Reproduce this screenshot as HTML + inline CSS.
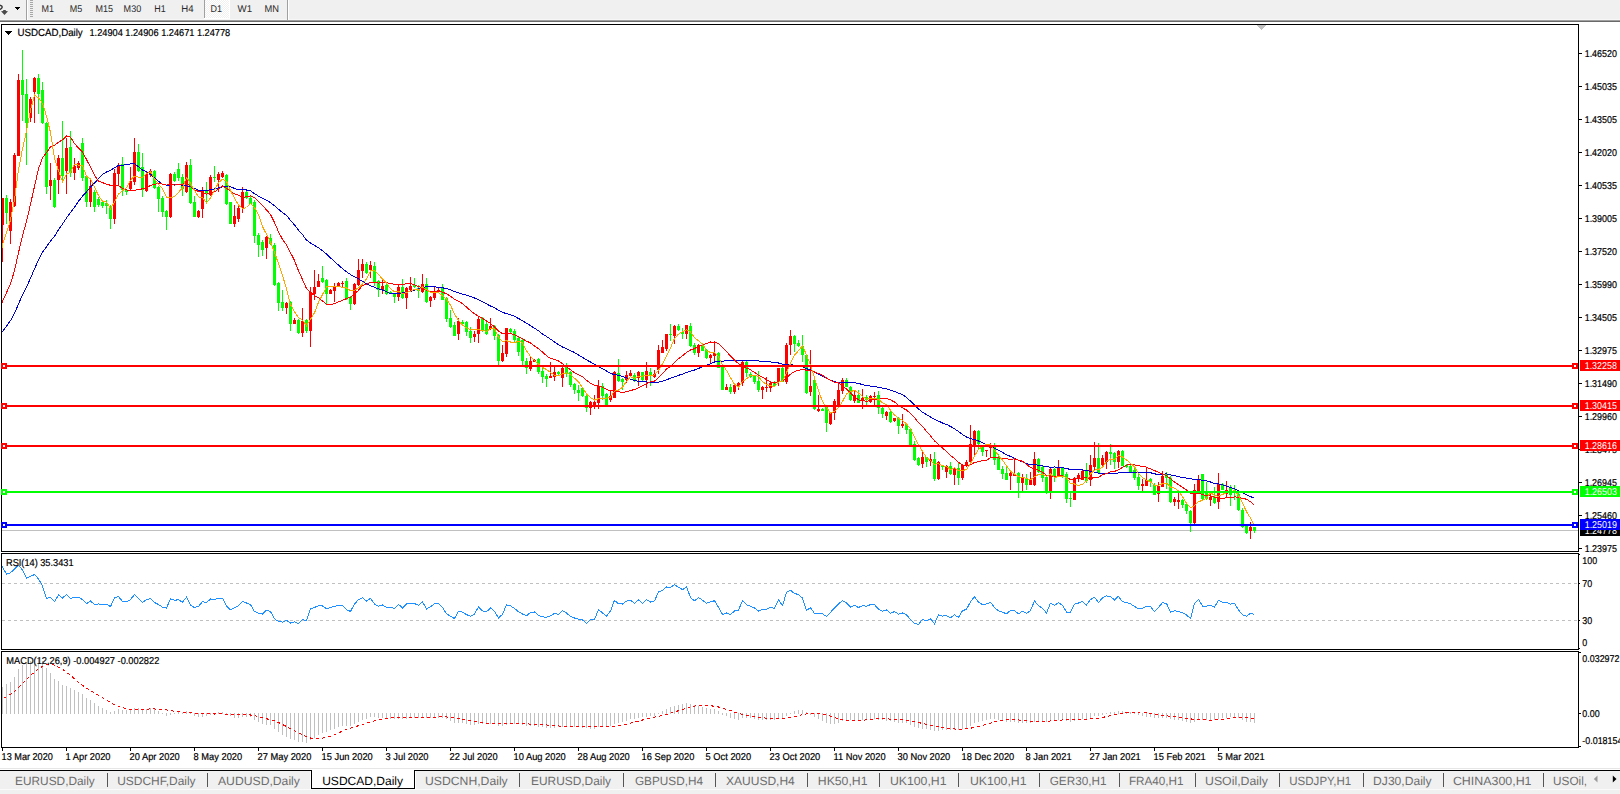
<!DOCTYPE html>
<html><head><meta charset="utf-8"><title>USDCAD,Daily</title>
<style>html,body{margin:0;padding:0;background:#fff;width:1620px;height:794px;overflow:hidden}svg{display:block}text{font-family:"Liberation Sans",sans-serif;shape-rendering:auto;text-rendering:geometricPrecision}</style>
</head><body><svg width="1620" height="794" viewBox="0 0 1620 794" font-family="Liberation Sans, sans-serif" shape-rendering="crispEdges"><rect x="0" y="0" width="1620" height="20" fill="#f0f0f0"/>
<rect x="0" y="19" width="1620" height="1" fill="#f7f7f7"/>
<rect x="0" y="20" width="1620" height="1" fill="#a0a0a0"/>
<rect x="0" y="21" width="1620" height="1" fill="#696969"/>
<path d="M0 5.3 Q4.5 6.5 0 9.6" stroke="#333" stroke-width="1.4" fill="none" shape-rendering="auto"/>
<path d="M3.2 10 L5.8 10 L5.8 11 L8 11.3 L4.5 15 L1 11.3 L3.2 11 Z" fill="#4a4a4a" shape-rendering="auto"/>
<path d="M15 7 L20 7 L17.5 10 Z" fill="#000"/>
<rect x="26" y="0" width="1" height="20" fill="#a0a0a0"/>
<rect x="27" y="0" width="1" height="20" fill="#ffffff"/>
<rect x="30" y="0" width="3" height="1" fill="#a8a8a8"/>
<rect x="30" y="2" width="3" height="1" fill="#a8a8a8"/>
<rect x="30" y="4" width="3" height="1" fill="#a8a8a8"/>
<rect x="30" y="6" width="3" height="1" fill="#a8a8a8"/>
<rect x="30" y="8" width="3" height="1" fill="#a8a8a8"/>
<rect x="30" y="10" width="3" height="1" fill="#a8a8a8"/>
<rect x="30" y="12" width="3" height="1" fill="#a8a8a8"/>
<rect x="30" y="14" width="3" height="1" fill="#a8a8a8"/>
<rect x="30" y="16" width="3" height="1" fill="#a8a8a8"/>
<pattern id="dith" x="0" y="0" width="2" height="2" patternUnits="userSpaceOnUse"><rect width="2" height="2" fill="#f0f0f0"/><rect width="1" height="1" fill="#fff"/><rect x="1" y="1" width="1" height="1" fill="#fff"/></pattern>
<rect x="205" y="0" width="24" height="18" fill="url(#dith)"/>
<rect x="204" y="0" width="1" height="18" fill="#a0a0a0"/>
<rect x="229" y="0" width="1" height="19" fill="#fff"/>
<rect x="204" y="18" width="26" height="1" fill="#fff"/>
<rect x="287" y="0" width="1" height="20" fill="#a0a0a0"/>
<rect x="288" y="0" width="1" height="20" fill="#ffffff"/>
<text x="41.5" y="12" font-size="9.80" fill="#2a2a2a" textLength="12.50" lengthAdjust="spacingAndGlyphs">M1</text>
<text x="69.7" y="12" font-size="9.80" fill="#2a2a2a" textLength="12.50" lengthAdjust="spacingAndGlyphs">M5</text>
<text x="95.5" y="12" font-size="9.80" fill="#2a2a2a" textLength="17.50" lengthAdjust="spacingAndGlyphs">M15</text>
<text x="123.60000000000001" y="12" font-size="9.80" fill="#2a2a2a" textLength="17.60" lengthAdjust="spacingAndGlyphs">M30</text>
<text x="154.29999999999998" y="12" font-size="9.80" fill="#2a2a2a" textLength="11.40" lengthAdjust="spacingAndGlyphs">H1</text>
<text x="181.2" y="12" font-size="9.80" fill="#2a2a2a" textLength="12.30" lengthAdjust="spacingAndGlyphs">H4</text>
<text x="210.39999999999998" y="12" font-size="9.80" fill="#2a2a2a" textLength="11.50" lengthAdjust="spacingAndGlyphs">D1</text>
<text x="237.6" y="12" font-size="9.80" fill="#2a2a2a" textLength="14.50" lengthAdjust="spacingAndGlyphs">W1</text>
<text x="264.4" y="12" font-size="9.80" fill="#2a2a2a" textLength="14.50" lengthAdjust="spacingAndGlyphs">MN</text>
<rect x="1" y="24" width="1578" height="1" fill="#000"/>
<rect x="1" y="551" width="1578" height="1" fill="#000"/>
<rect x="1" y="24" width="1" height="528" fill="#000"/>
<rect x="1578" y="24" width="1" height="528" fill="#000"/>
<rect x="1" y="553" width="1578" height="1" fill="#000"/>
<rect x="1" y="649" width="1578" height="1" fill="#000"/>
<rect x="1" y="553" width="1" height="97" fill="#000"/>
<rect x="1578" y="553" width="1" height="97" fill="#000"/>
<rect x="1" y="651" width="1578" height="1" fill="#000"/>
<rect x="1" y="747" width="1578" height="1" fill="#000"/>
<rect x="1" y="651" width="1" height="97" fill="#000"/>
<rect x="1578" y="651" width="1" height="97" fill="#000"/>
<clipPath id="cm"><rect x="2" y="25" width="1576" height="526"/></clipPath>
<clipPath id="cr"><rect x="2" y="554" width="1576" height="95"/></clipPath>
<clipPath id="cd"><rect x="2" y="652" width="1576" height="95"/></clipPath>
<path d="M1257 25 L1266 25 L1261.5 30 Z" fill="#c0c0c0"/>
<g clip-path="url(#cm)">
<rect x="2" y="530" width="1576" height="1" fill="#c0c0c0"/>
<path d="M6 195h1v29h-1z M5 198h3v15h-3z M22 50h1v71h-1z M21 80h3v15h-3z M26 79h1v86h-1z M25 94h3v29h-3z M38 74h1v40h-1z M37 78h3v16h-3z M42 82h1v42h-1z M41 90h3v33h-3z M46 122h1v72h-1z M45 123h3v64h-3z M54 178h1v30h-1z M53 180h3v27h-3z M62 121h1v60h-1z M61 158h3v18h-3z M70 131h1v46h-1z M69 147h3v26h-3z M82 138h1v43h-1z M81 143h3v35h-3z M86 175h1v32h-1z M85 176h3v26h-3z M94 190h1v22h-1z M93 192h3v15h-3z M98 197h1v10h-1z M97 199h3v6h-3z M102 201h1v7h-1z M101 202h3v4h-3z M106 200h1v14h-1z M105 203h3v3h-3z M110 205h1v24h-1z M109 206h3v13h-3z M122 157h1v39h-1z M121 164h3v26h-3z M126 189h1v6h-1z M125 190h3v2h-3z M138 144h1v28h-1z M137 152h3v19h-3z M142 153h1v44h-1z M141 167h3v23h-3z M154 170h1v19h-1z M153 171h3v17h-3z M158 186h1v26h-1z M157 187h3v12h-3z M162 196h1v21h-1z M161 198h3v14h-3z M166 210h1v20h-1z M165 211h3v6h-3z M174 172h1v10h-1z M173 174h3v7h-3z M178 163h1v18h-1z M177 169h3v9h-3z M182 174h1v22h-1z M181 177h3v12h-3z M190 159h1v45h-1z M189 165h3v38h-3z M194 196h1v21h-1z M193 202h3v15h-3z M206 182h1v21h-1z M205 190h3v4h-3z M214 166h1v16h-1z M213 177h3v1h-3z M226 174h1v31h-1z M225 175h3v29h-3z M230 202h1v22h-1z M229 202h3v22h-3z M246 190h1v9h-1z M245 192h3v6h-3z M250 196h1v8h-1z M249 198h3v6h-3z M254 200h1v43h-1z M253 202h3v34h-3z M258 233h1v24h-1z M257 235h3v10h-3z M262 240h1v16h-1z M261 242h3v8h-3z M270 234h1v11h-1z M269 238h3v6h-3z M274 243h1v43h-1z M273 245h3v40h-3z M278 282h1v29h-1z M277 283h3v20h-3z M282 290h1v21h-1z M281 302h3v6h-3z M290 301h1v30h-1z M289 302h3v22h-3z M298 319h1v15h-1z M297 320h3v13h-3z M306 319h1v14h-1z M305 320h3v11h-3z M322 266h1v17h-1z M321 278h3v4h-3z M326 279h1v26h-1z M325 280h3v14h-3z M346 278h1v22h-1z M345 281h3v17h-3z M350 296h1v14h-1z M349 297h3v7h-3z M366 262h1v12h-1z M365 264h3v9h-3z M374 262h1v24h-1z M373 266h3v16h-3z M378 280h1v17h-1z M377 281h3v9h-3z M386 284h1v11h-1z M385 285h3v9h-3z M390 291h1v3h-1z M389 292h3v1h-3z M394 293h1v10h-1z M393 294h3v3h-3z M402 279h1v20h-1z M401 287h3v11h-3z M414 278h1v10h-1z M413 285h3v2h-3z M418 285h1v13h-1z M417 288h3v3h-3z M426 278h1v25h-1z M425 284h3v18h-3z M442 284h1v16h-1z M441 288h3v12h-3z M446 297h1v25h-1z M445 298h3v21h-3z M450 310h1v18h-1z M449 318h3v9h-3z M454 322h1v14h-1z M453 325h3v11h-3z M462 320h1v5h-1z M461 322h3v2h-3z M466 321h1v15h-1z M465 322h3v10h-3z M470 327h1v16h-1z M469 331h3v7h-3z M482 317h1v15h-1z M481 318h3v13h-3z M486 322h1v13h-1z M485 324h3v10h-3z M494 325h1v15h-1z M493 326h3v10h-3z M498 334h1v31h-1z M497 335h3v26h-3z M510 328h1v5h-1z M509 329h3v3h-3z M514 329h1v13h-1z M513 331h3v9h-3z M518 337h1v19h-1z M517 338h3v14h-3z M522 339h1v26h-1z M521 340h3v21h-3z M526 358h1v16h-1z M525 361h3v7h-3z M538 358h1v16h-1z M537 359h3v13h-3z M542 368h1v15h-1z M541 371h3v6h-3z M546 374h1v13h-1z M545 376h3v3h-3z M558 371h1v4h-1z M557 372h3v2h-3z M566 363h1v14h-1z M565 366h3v8h-3z M570 371h1v16h-1z M569 372h3v13h-3z M574 383h1v11h-1z M573 384h3v6h-3z M578 385h1v16h-1z M577 390h3v3h-3z M582 387h1v10h-1z M581 388h3v8h-3z M586 393h1v19h-1z M585 396h3v12h-3z M602 383h1v17h-1z M601 386h3v10h-3z M606 393h1v13h-1z M605 394h3v11h-3z M618 359h1v23h-1z M617 373h3v8h-3z M622 378h1v12h-1z M621 379h3v3h-3z M634 373h1v9h-1z M633 375h3v5h-3z M642 372h1v9h-1z M641 372h3v8h-3z M650 368h1v18h-1z M649 372h3v4h-3z M670 324h1v17h-1z M669 334h3v1h-3z M678 324h1v7h-1z M677 326h3v4h-3z M682 328h1v11h-1z M681 332h3v2h-3z M690 323h1v24h-1z M689 326h3v20h-3z M694 343h1v12h-1z M693 345h3v8h-3z M702 343h1v8h-1z M701 345h3v6h-3z M706 349h1v10h-1z M705 350h3v8h-3z M718 352h1v16h-1z M717 353h3v15h-3z M722 366h1v24h-1z M721 367h3v23h-3z M730 384h1v10h-1z M729 387h3v5h-3z M746 361h1v16h-1z M745 362h3v11h-3z M750 372h1v6h-1z M749 374h3v3h-3z M754 375h1v9h-1z M753 375h3v7h-3z M758 371h1v21h-1z M757 381h3v9h-3z M774 381h1v5h-1z M773 382h3v4h-3z M782 367h1v15h-1z M781 368h3v14h-3z M794 335h1v17h-1z M793 336h3v8h-3z M798 340h1v7h-1z M797 343h3v3h-3z M802 335h1v27h-1z M801 346h3v9h-3z M806 354h1v40h-1z M805 355h3v38h-3z M814 380h1v30h-1z M813 380h3v29h-3z M822 408h1v3h-1z M821 409h3v2h-3z M826 406h1v26h-1z M825 407h3v16h-3z M846 378h1v9h-1z M845 380h3v7h-3z M850 386h1v15h-1z M849 387h3v13h-3z M858 390h1v13h-1z M857 395h3v8h-3z M866 395h1v12h-1z M865 397h3v3h-3z M878 391h1v23h-1z M877 395h3v13h-3z M882 407h1v11h-1z M881 408h3v6h-3z M890 411h1v12h-1z M889 412h3v10h-3z M898 417h1v17h-1z M897 418h3v8h-3z M906 423h1v11h-1z M905 424h3v6h-3z M910 428h1v18h-1z M909 429h3v16h-3z M914 441h1v20h-1z M913 444h3v16h-3z M918 457h1v9h-1z M917 458h3v7h-3z M926 457h1v10h-1z M925 457h3v5h-3z M934 452h1v29h-1z M933 459h3v20h-3z M942 465h1v5h-1z M941 465h3v2h-3z M950 462h1v13h-1z M949 466h3v8h-3z M958 463h1v22h-1z M957 468h3v10h-3z M978 430h1v20h-1z M977 431h3v13h-3z M982 445h1v11h-1z M981 447h3v5h-3z M994 443h1v22h-1z M993 446h3v14h-3z M998 454h1v16h-1z M997 457h3v13h-3z M1002 466h1v13h-1z M1001 469h3v5h-3z M1006 466h1v14h-1z M1005 473h3v7h-3z M1018 472h1v26h-1z M1017 473h3v10h-3z M1026 474h1v16h-1z M1025 479h3v6h-3z M1038 458h1v15h-1z M1037 459h3v13h-3z M1042 466h1v16h-1z M1041 467h3v11h-3z M1046 476h1v18h-1z M1045 477h3v16h-3z M1054 468h1v14h-1z M1053 469h3v7h-3z M1062 467h1v11h-1z M1061 468h3v8h-3z M1066 472h1v31h-1z M1065 474h3v25h-3z M1070 493h1v14h-1z M1069 498h3v1h-3z M1086 463h1v20h-1z M1085 471h3v10h-3z M1098 443h1v30h-1z M1097 458h3v15h-3z M1110 444h1v21h-1z M1109 452h3v2h-3z M1114 452h1v17h-1z M1113 453h3v9h-3z M1122 450h1v16h-1z M1121 451h3v15h-3z M1126 464h1v4h-1z M1125 465h3v2h-3z M1130 465h1v8h-1z M1129 466h3v6h-3z M1134 466h1v14h-1z M1133 470h3v8h-3z M1138 473h1v17h-1z M1137 477h3v9h-3z M1150 478h1v9h-1z M1149 479h3v3h-3z M1154 483h1v12h-1z M1153 485h3v10h-3z M1166 472h1v17h-1z M1165 474h3v4h-3z M1170 476h1v27h-1z M1169 478h3v24h-3z M1182 499h1v9h-1z M1181 500h3v5h-3z M1186 503h1v11h-1z M1185 504h3v7h-3z M1190 510h1v22h-1z M1189 511h3v12h-3z M1202 474h1v26h-1z M1201 474h3v25h-3z M1206 482h1v18h-1z M1205 493h3v6h-3z M1214 487h1v17h-1z M1213 497h3v6h-3z M1222 483h1v7h-1z M1221 484h3v6h-3z M1230 485h1v21h-1z M1229 488h3v7h-3z M1234 485h1v15h-1z M1233 490h3v3h-3z M1238 491h1v20h-1z M1237 494h3v16h-3z M1242 508h1v20h-1z M1241 510h3v17h-3z M1246 525h1v9h-1z M1245 526h3v7h-3z M1254 527h1v6h-1z M1253 527h3v4h-3z" fill="#00ff00"/>
<path d="M2 198h1v64h-1z M1 198h3v27h-3z M10 199h1v45h-1z M9 202h3v29h-3z M14 153h1v54h-1z M13 155h3v51h-3z M18 74h1v82h-1z M17 80h3v76h-3z M30 97h1v25h-1z M29 99h3v19h-3z M34 77h1v46h-1z M33 78h3v14h-3z M50 163h1v37h-1z M49 180h3v6h-3z M58 155h1v39h-1z M57 158h3v22h-3z M66 138h1v56h-1z M65 148h3v23h-3z M74 158h1v22h-1z M73 166h3v7h-3z M78 161h1v9h-1z M77 163h3v5h-3z M90 180h1v27h-1z M89 186h3v16h-3z M114 169h1v55h-1z M113 173h3v46h-3z M118 163h1v22h-1z M117 166h3v8h-3z M130 167h1v23h-1z M129 181h3v8h-3z M134 138h1v47h-1z M133 152h3v30h-3z M146 172h1v20h-1z M145 174h3v17h-3z M150 169h1v8h-1z M149 171h3v4h-3z M170 173h1v45h-1z M169 174h3v43h-3z M186 162h1v31h-1z M185 165h3v27h-3z M198 210h1v8h-1z M197 211h3v6h-3z M202 187h1v31h-1z M201 190h3v19h-3z M210 175h1v21h-1z M209 177h3v18h-3z M218 172h1v20h-1z M217 174h3v6h-3z M222 171h1v7h-1z M221 173h3v4h-3z M234 205h1v22h-1z M233 216h3v8h-3z M238 204h1v18h-1z M237 208h3v11h-3z M242 187h1v26h-1z M241 192h3v16h-3z M266 236h1v23h-1z M265 237h3v11h-3z M286 302h1v12h-1z M285 303h3v5h-3z M294 318h1v6h-1z M293 320h3v4h-3z M302 308h1v29h-1z M301 321h3v12h-3z M310 287h1v60h-1z M309 292h3v39h-3z M314 270h1v30h-1z M313 287h3v7h-3z M318 274h1v13h-1z M317 281h3v6h-3z M330 289h1v5h-1z M329 290h3v4h-3z M334 283h1v19h-1z M333 286h3v5h-3z M338 282h1v5h-1z M337 283h3v3h-3z M342 281h1v6h-1z M341 283h3v1h-3z M354 283h1v22h-1z M353 284h3v20h-3z M358 259h1v27h-1z M357 270h3v15h-3z M362 259h1v19h-1z M361 264h3v7h-3z M370 261h1v17h-1z M369 265h3v5h-3z M382 279h1v15h-1z M381 286h3v4h-3z M398 284h1v17h-1z M397 287h3v10h-3z M406 287h1v22h-1z M405 288h3v10h-3z M410 277h1v15h-1z M409 286h3v4h-3z M422 274h1v19h-1z M421 284h3v8h-3z M430 296h1v11h-1z M429 297h3v4h-3z M434 287h1v13h-1z M433 291h3v7h-3z M438 288h1v4h-1z M437 290h3v1h-3z M458 318h1v22h-1z M457 321h3v13h-3z M474 331h1v11h-1z M473 334h3v3h-3z M478 316h1v27h-1z M477 319h3v15h-3z M490 318h1v12h-1z M489 326h3v3h-3z M502 345h1v17h-1z M501 353h3v8h-3z M506 328h1v29h-1z M505 328h3v26h-3z M530 357h1v14h-1z M529 361h3v8h-3z M534 359h1v3h-1z M533 360h3v2h-3z M550 362h1v16h-1z M549 376h3v2h-3z M554 365h1v16h-1z M553 372h3v5h-3z M562 367h1v20h-1z M561 368h3v10h-3z M590 401h1v14h-1z M589 402h3v6h-3z M594 395h1v14h-1z M593 402h3v3h-3z M598 380h1v29h-1z M597 386h3v17h-3z M610 391h1v11h-1z M609 396h3v4h-3z M614 371h1v27h-1z M613 372h3v26h-3z M626 371h1v12h-1z M625 375h3v5h-3z M630 370h1v6h-1z M629 373h3v3h-3z M638 371h1v15h-1z M637 372h3v6h-3z M646 362h1v26h-1z M645 371h3v9h-3z M654 370h1v8h-1z M653 374h3v3h-3z M658 345h1v29h-1z M657 350h3v20h-3z M662 340h1v13h-1z M661 347h3v6h-3z M666 334h1v17h-1z M665 334h3v15h-3z M674 325h1v19h-1z M673 326h3v10h-3z M686 325h1v14h-1z M685 325h3v9h-3z M698 344h1v13h-1z M697 345h3v8h-3z M710 354h1v9h-1z M709 355h3v3h-3z M714 341h1v20h-1z M713 353h3v3h-3z M726 384h1v6h-1z M725 387h3v3h-3z M734 383h1v11h-1z M733 385h3v7h-3z M738 382h1v8h-1z M737 383h3v4h-3z M742 360h1v26h-1z M741 362h3v21h-3z M762 386h1v13h-1z M761 387h3v3h-3z M766 377h1v15h-1z M765 387h3v1h-3z M770 382h1v10h-1z M769 383h3v5h-3z M778 368h1v18h-1z M777 368h3v14h-3z M786 343h1v41h-1z M785 345h3v37h-3z M790 330h1v25h-1z M789 336h3v9h-3z M810 350h1v46h-1z M809 386h3v6h-3z M818 395h1v17h-1z M817 409h3v2h-3z M830 412h1v13h-1z M829 413h3v11h-3z M834 399h1v21h-1z M833 401h3v12h-3z M838 383h1v23h-1z M837 390h3v15h-3z M842 378h1v16h-1z M841 380h3v11h-3z M854 391h1v12h-1z M853 395h3v6h-3z M862 389h1v20h-1z M861 398h3v3h-3z M870 395h1v8h-1z M869 396h3v6h-3z M874 392h1v13h-1z M873 396h3v1h-3z M886 411h1v9h-1z M885 412h3v4h-3z M894 418h1v4h-1z M893 418h3v3h-3z M902 414h1v14h-1z M901 424h3v2h-3z M922 452h1v16h-1z M921 457h3v7h-3z M930 454h1v12h-1z M929 459h3v2h-3z M938 461h1v19h-1z M937 462h3v17h-3z M946 465h1v13h-1z M945 466h3v6h-3z M954 468h1v17h-1z M953 469h3v6h-3z M962 464h1v16h-1z M961 465h3v13h-3z M966 460h1v7h-1z M965 462h3v4h-3z M970 425h1v39h-1z M969 444h3v18h-3z M974 430h1v25h-1z M973 431h3v14h-3z M986 450h1v7h-1z M985 450h3v1h-3z M990 443h1v15h-1z M989 446h3v2h-3z M1010 472h1v18h-1z M1009 473h3v3h-3z M1014 459h1v17h-1z M1013 474h3v2h-3z M1022 474h1v17h-1z M1021 478h3v5h-3z M1030 472h1v13h-1z M1029 480h3v5h-3z M1034 452h1v34h-1z M1033 459h3v26h-3z M1050 468h1v31h-1z M1049 469h3v22h-3z M1058 460h1v16h-1z M1057 468h3v8h-3z M1074 477h1v23h-1z M1073 478h3v22h-3z M1078 473h1v9h-1z M1077 475h3v4h-3z M1082 470h1v10h-1z M1081 471h3v9h-3z M1090 455h1v31h-1z M1089 465h3v15h-3z M1094 442h1v28h-1z M1093 458h3v9h-3z M1102 455h1v11h-1z M1101 458h3v7h-3z M1106 451h1v18h-1z M1105 452h3v10h-3z M1118 450h1v18h-1z M1117 451h3v11h-3z M1142 479h1v12h-1z M1141 484h3v2h-3z M1146 468h1v18h-1z M1145 480h3v6h-3z M1158 482h1v20h-1z M1157 486h3v8h-3z M1162 471h1v16h-1z M1161 476h3v11h-3z M1174 497h1v9h-1z M1173 499h3v3h-3z M1178 493h1v16h-1z M1177 500h3v2h-3z M1194 484h1v40h-1z M1193 490h3v33h-3z M1198 475h1v17h-1z M1197 479h3v12h-3z M1210 494h1v12h-1z M1209 497h3v3h-3z M1218 473h1v36h-1z M1217 484h3v18h-3z M1226 481h1v17h-1z M1225 490h3v4h-3z M1250 522h1v17h-1z M1249 527h3v4h-3z" fill="#ff0000"/>
<polyline points="-1.5,337.3 2.5,331.5 6.5,326.2 10.5,320.6 14.5,313.5 18.5,304.0 22.5,295.0 26.5,287.0 30.5,278.3 34.5,268.9 38.5,260.1 42.5,252.3 46.5,246.8 50.5,241.0 54.5,236.2 58.5,229.8 62.5,224.1 66.5,217.9 70.5,212.5 74.5,207.1 78.5,201.3 82.5,196.2 86.5,191.8 90.5,187.2 94.5,182.9 98.5,178.7 102.5,174.2 106.5,172.0 110.5,170.5 114.5,167.7 118.5,165.5 122.5,165.2 126.5,164.6 130.5,163.9 134.5,163.8 138.5,166.8 142.5,170.0 146.5,171.7 150.5,174.1 154.5,177.7 158.5,181.2 162.5,184.2 166.5,185.2 170.5,185.0 174.5,184.1 178.5,184.8 182.5,185.2 186.5,185.8 190.5,186.8 194.5,188.5 198.5,190.1 202.5,190.5 206.5,190.2 210.5,189.9 214.5,189.0 218.5,187.9 222.5,186.8 226.5,186.8 230.5,186.9 234.5,188.4 238.5,189.8 242.5,189.8 246.5,190.0 250.5,190.8 254.5,193.6 258.5,196.1 262.5,198.1 266.5,200.2 270.5,202.6 274.5,205.8 278.5,209.3 282.5,212.5 286.5,215.4 290.5,220.4 294.5,225.0 298.5,230.2 302.5,234.6 306.5,240.1 310.5,243.1 314.5,245.4 318.5,247.7 322.5,250.8 326.5,254.1 330.5,257.9 334.5,261.5 338.5,265.1 342.5,268.7 346.5,271.9 350.5,274.5 354.5,276.8 358.5,278.9 362.5,281.3 366.5,283.8 370.5,285.8 374.5,287.3 378.5,288.8 382.5,290.0 386.5,291.9 390.5,293.5 394.5,293.9 398.5,293.4 402.5,293.0 406.5,292.5 410.5,291.3 414.5,290.2 418.5,288.8 422.5,287.5 426.5,286.6 430.5,286.7 434.5,286.9 438.5,287.2 442.5,287.8 446.5,288.6 450.5,289.8 454.5,291.5 458.5,292.7 462.5,294.1 466.5,295.2 470.5,296.4 474.5,298.0 478.5,299.7 482.5,301.9 486.5,303.9 490.5,306.0 494.5,307.8 498.5,310.2 502.5,312.4 506.5,313.6 510.5,314.9 514.5,316.3 518.5,318.5 522.5,320.6 526.5,323.2 530.5,325.7 534.5,328.2 538.5,330.8 542.5,334.0 546.5,336.5 550.5,339.2 554.5,341.9 558.5,344.7 562.5,347.0 566.5,348.8 570.5,350.7 574.5,352.5 578.5,355.0 582.5,357.3 586.5,359.9 590.5,362.0 594.5,364.3 598.5,366.5 602.5,368.7 606.5,371.0 610.5,373.4 614.5,374.6 618.5,375.3 622.5,376.3 626.5,377.8 630.5,379.2 634.5,380.5 638.5,381.2 642.5,381.8 646.5,381.9 650.5,382.4 654.5,382.9 658.5,382.2 662.5,381.2 666.5,379.7 670.5,378.3 674.5,376.8 678.5,375.3 682.5,374.1 686.5,372.5 690.5,371.2 694.5,370.0 698.5,368.4 702.5,366.9 706.5,365.3 710.5,363.7 714.5,362.0 718.5,361.4 722.5,361.2 726.5,360.6 730.5,360.5 734.5,360.9 738.5,361.0 742.5,360.3 746.5,360.2 750.5,360.3 754.5,360.4 758.5,361.0 762.5,361.2 766.5,361.8 770.5,362.0 774.5,362.4 778.5,363.0 782.5,364.1 786.5,364.5 790.5,364.5 794.5,365.2 798.5,365.7 802.5,366.4 806.5,368.7 810.5,370.0 814.5,371.9 818.5,374.0 822.5,376.0 826.5,378.2 830.5,380.1 834.5,381.7 838.5,382.5 842.5,382.1 846.5,382.1 850.5,382.4 854.5,382.8 858.5,383.4 862.5,384.6 866.5,385.5 870.5,386.1 874.5,386.6 878.5,387.2 882.5,388.1 886.5,388.9 890.5,390.2 894.5,391.3 898.5,393.2 902.5,394.7 906.5,397.5 910.5,401.1 914.5,405.0 918.5,408.9 922.5,412.3 926.5,414.6 930.5,417.0 934.5,419.3 938.5,421.1 942.5,423.0 946.5,424.4 950.5,426.5 954.5,428.7 958.5,431.6 962.5,434.5 966.5,437.0 970.5,438.5 974.5,439.6 978.5,441.0 982.5,442.8 986.5,444.5 990.5,446.2 994.5,448.3 998.5,450.4 1002.5,452.4 1006.5,454.7 1010.5,456.4 1014.5,458.2 1018.5,460.1 1022.5,461.9 1026.5,463.7 1030.5,464.9 1034.5,464.9 1038.5,465.1 1042.5,465.8 1046.5,466.8 1050.5,467.1 1054.5,467.0 1058.5,467.2 1062.5,467.5 1066.5,468.6 1070.5,469.4 1074.5,469.8 1078.5,469.7 1082.5,469.9 1086.5,470.5 1090.5,471.2 1094.5,472.1 1098.5,473.1 1102.5,473.3 1106.5,473.3 1110.5,473.6 1114.5,473.7 1118.5,473.0 1122.5,472.8 1126.5,472.3 1130.5,472.3 1134.5,472.4 1138.5,472.5 1142.5,472.8 1146.5,472.6 1150.5,472.7 1154.5,473.9 1158.5,474.3 1162.5,474.3 1166.5,473.8 1170.5,474.9 1174.5,475.7 1178.5,476.7 1182.5,477.7 1186.5,478.1 1190.5,478.9 1194.5,479.3 1198.5,479.4 1202.5,480.4 1206.5,480.9 1210.5,482.0 1214.5,483.5 1218.5,483.9 1222.5,484.9 1226.5,486.2 1230.5,487.5 1234.5,488.6 1238.5,490.6 1242.5,492.6 1246.5,494.8 1250.5,496.6 1254.5,498.4" fill="none" stroke="#0000cd" stroke-width="1"/>
<polyline points="-1.5,311.1 2.5,301.4 6.5,292.7 10.5,283.7 14.5,270.6 18.5,252.8 22.5,235.7 26.5,221.2 30.5,204.3 34.5,186.3 38.5,168.7 42.5,158.0 46.5,152.4 50.5,147.0 54.5,145.3 58.5,142.4 62.5,139.8 66.5,135.9 70.5,137.2 74.5,143.4 78.5,148.2 82.5,152.1 86.5,159.5 90.5,167.2 94.5,175.3 98.5,181.1 102.5,182.5 106.5,184.4 110.5,185.2 114.5,186.3 118.5,185.6 122.5,188.6 126.5,189.9 130.5,191.0 134.5,190.2 138.5,189.7 142.5,188.8 146.5,188.0 150.5,185.4 154.5,184.2 158.5,183.7 162.5,184.1 166.5,184.0 170.5,184.0 174.5,185.1 178.5,184.3 182.5,184.1 186.5,182.9 190.5,186.6 194.5,189.9 198.5,191.4 202.5,192.5 206.5,194.1 210.5,193.4 214.5,191.9 218.5,189.2 222.5,186.0 226.5,188.2 230.5,191.2 234.5,193.9 238.5,195.3 242.5,197.2 246.5,196.9 250.5,195.9 254.5,197.7 258.5,201.6 262.5,205.6 266.5,209.9 270.5,214.6 274.5,222.5 278.5,231.8 282.5,239.3 286.5,244.9 290.5,252.6 294.5,260.6 298.5,270.7 302.5,279.5 306.5,288.5 310.5,292.6 314.5,295.6 318.5,297.8 322.5,300.9 326.5,304.5 330.5,304.8 334.5,303.6 338.5,301.8 342.5,300.4 346.5,298.5 350.5,297.4 354.5,293.9 358.5,290.3 362.5,285.4 366.5,284.1 370.5,282.5 374.5,282.6 378.5,283.1 382.5,282.6 386.5,282.8 390.5,283.3 394.5,284.3 398.5,284.6 402.5,284.6 406.5,283.5 410.5,283.6 414.5,284.9 418.5,286.8 422.5,287.6 426.5,290.2 430.5,291.3 434.5,291.4 438.5,291.7 442.5,292.1 446.5,293.9 450.5,296.1 454.5,299.5 458.5,301.2 462.5,303.7 466.5,307.0 470.5,310.7 474.5,313.7 478.5,316.2 482.5,318.3 486.5,321.0 490.5,323.5 494.5,326.8 498.5,331.1 502.5,333.6 506.5,333.7 510.5,333.4 514.5,334.8 518.5,336.8 522.5,338.9 526.5,341.1 530.5,343.0 534.5,345.9 538.5,348.8 542.5,351.9 546.5,355.7 550.5,358.6 554.5,359.3 558.5,360.9 562.5,363.7 566.5,366.7 570.5,369.9 574.5,372.6 578.5,374.9 582.5,376.8 586.5,380.2 590.5,383.2 594.5,385.4 598.5,386.0 602.5,387.2 606.5,389.3 610.5,391.0 614.5,390.9 618.5,391.8 622.5,392.4 626.5,391.7 630.5,390.5 634.5,389.5 638.5,387.8 642.5,385.9 646.5,383.7 650.5,381.9 654.5,381.0 658.5,377.7 662.5,373.6 666.5,369.1 670.5,366.5 674.5,362.5 678.5,358.8 682.5,355.8 686.5,352.4 690.5,350.0 694.5,348.7 698.5,346.1 702.5,344.7 706.5,343.4 710.5,342.0 714.5,342.2 718.5,343.7 722.5,347.7 726.5,351.4 730.5,356.1 734.5,360.1 738.5,363.6 742.5,366.2 746.5,368.1 750.5,369.8 754.5,372.4 758.5,375.2 762.5,377.3 766.5,379.6 770.5,381.8 774.5,383.0 778.5,381.5 782.5,381.1 786.5,377.8 790.5,374.3 794.5,371.5 798.5,370.4 802.5,369.1 806.5,370.3 810.5,370.6 814.5,372.0 818.5,373.5 822.5,375.2 826.5,378.1 830.5,380.1 834.5,382.4 838.5,383.0 842.5,385.5 846.5,389.1 850.5,393.1 854.5,396.6 858.5,400.0 862.5,400.3 866.5,401.3 870.5,400.3 874.5,399.4 878.5,399.2 882.5,398.5 886.5,398.4 890.5,399.9 894.5,402.0 898.5,405.3 902.5,407.9 906.5,410.0 910.5,413.6 914.5,417.7 918.5,422.5 922.5,426.5 926.5,431.3 930.5,435.8 934.5,440.9 938.5,444.3 942.5,448.2 946.5,451.4 950.5,455.4 954.5,458.4 958.5,462.3 962.5,464.8 966.5,466.0 970.5,464.9 974.5,462.5 978.5,461.6 982.5,460.8 986.5,460.2 990.5,457.9 994.5,457.7 998.5,457.9 1002.5,458.5 1006.5,458.9 1010.5,459.2 1014.5,458.9 1018.5,460.2 1022.5,461.3 1026.5,464.2 1030.5,467.7 1034.5,468.7 1038.5,470.1 1042.5,472.1 1046.5,475.5 1050.5,476.1 1054.5,476.5 1058.5,476.1 1062.5,475.8 1066.5,477.7 1070.5,479.4 1074.5,479.1 1078.5,478.9 1082.5,477.9 1086.5,478.0 1090.5,478.5 1094.5,477.5 1098.5,477.2 1102.5,474.7 1106.5,473.5 1110.5,471.9 1114.5,471.5 1118.5,469.7 1122.5,467.4 1126.5,465.1 1130.5,464.6 1134.5,464.8 1138.5,465.9 1142.5,466.2 1146.5,467.2 1150.5,468.9 1154.5,470.5 1158.5,472.4 1162.5,474.1 1166.5,475.8 1170.5,478.7 1174.5,482.1 1178.5,484.6 1182.5,487.3 1186.5,490.1 1190.5,493.3 1194.5,493.6 1198.5,493.2 1202.5,494.5 1206.5,495.8 1210.5,495.9 1214.5,497.1 1218.5,497.7 1222.5,498.6 1226.5,497.7 1230.5,497.4 1234.5,496.9 1238.5,497.3 1242.5,498.4 1246.5,499.2 1250.5,501.8 1254.5,505.5" fill="none" stroke="#ff0000" stroke-width="1"/>
<polyline points="-1.5,273.0 2.5,244.6 6.5,232.7 10.5,219.9 14.5,199.9 18.5,169.5 22.5,148.9 26.5,131.0 30.5,110.4 34.5,95.0 38.5,97.8 42.5,103.4 46.5,116.2 50.5,132.4 54.5,158.2 58.5,171.0 62.5,181.6 66.5,173.8 70.5,172.4 74.5,164.2 78.5,165.2 82.5,165.6 86.5,176.4 90.5,179.0 94.5,187.2 98.5,195.6 102.5,201.3 106.5,202.1 110.5,208.7 114.5,201.9 118.5,194.0 122.5,190.7 126.5,187.9 130.5,180.3 134.5,176.1 138.5,177.2 142.5,177.2 146.5,173.6 150.5,171.6 154.5,178.8 158.5,184.4 162.5,188.8 166.5,197.4 170.5,198.0 174.5,196.6 178.5,192.4 182.5,187.8 186.5,177.4 190.5,183.2 194.5,190.4 198.5,197.0 202.5,197.2 206.5,203.0 210.5,197.8 214.5,190.0 218.5,182.7 222.5,179.3 226.5,181.3 230.5,190.6 234.5,198.2 238.5,204.9 242.5,208.7 246.5,207.5 250.5,203.6 254.5,207.5 258.5,214.9 262.5,226.5 266.5,234.3 270.5,242.3 274.5,252.2 278.5,263.8 282.5,275.5 286.5,288.7 290.5,304.6 294.5,311.6 298.5,317.6 302.5,320.1 306.5,325.7 310.5,319.4 314.5,312.8 318.5,302.3 322.5,294.5 326.5,287.0 330.5,286.6 334.5,286.4 338.5,286.8 342.5,287.1 346.5,288.0 350.5,290.8 354.5,290.4 358.5,287.8 362.5,283.9 366.5,278.9 370.5,271.0 374.5,270.6 378.5,274.5 382.5,279.0 386.5,283.1 390.5,288.8 394.5,291.8 398.5,291.3 402.5,293.7 406.5,292.6 410.5,291.2 414.5,289.2 418.5,290.0 422.5,287.1 426.5,289.9 430.5,292.1 434.5,292.8 438.5,292.5 442.5,295.8 446.5,299.1 450.5,305.1 454.5,314.1 458.5,320.3 462.5,325.2 466.5,327.8 470.5,330.0 474.5,329.7 478.5,329.4 482.5,330.8 486.5,331.2 490.5,328.7 494.5,329.0 498.5,337.5 502.5,341.8 506.5,340.7 510.5,342.0 514.5,342.9 518.5,341.1 522.5,342.8 526.5,350.7 530.5,356.5 534.5,360.3 538.5,364.2 542.5,367.4 546.5,369.6 550.5,372.6 554.5,375.1 558.5,375.7 562.5,373.9 566.5,372.9 570.5,374.7 574.5,378.2 578.5,381.9 582.5,387.4 586.5,394.1 590.5,397.5 594.5,400.0 598.5,398.7 602.5,398.7 606.5,398.2 610.5,397.0 614.5,391.1 618.5,390.0 622.5,387.3 626.5,381.3 630.5,376.7 634.5,378.2 638.5,376.4 642.5,376.1 646.5,375.3 650.5,376.0 654.5,374.8 658.5,370.4 662.5,363.6 666.5,356.2 670.5,347.9 674.5,338.3 678.5,334.2 682.5,331.6 686.5,329.8 690.5,332.0 694.5,337.6 698.5,340.8 702.5,344.1 706.5,350.7 710.5,352.4 714.5,352.3 718.5,356.8 722.5,364.6 726.5,370.4 730.5,377.8 734.5,384.3 738.5,387.3 742.5,381.6 746.5,378.9 750.5,375.8 754.5,375.2 758.5,376.7 762.5,381.7 766.5,384.5 770.5,385.8 774.5,386.5 778.5,382.1 782.5,381.1 786.5,372.7 790.5,363.4 794.5,355.1 798.5,350.7 802.5,345.4 806.5,355.0 810.5,364.9 814.5,378.0 818.5,390.4 822.5,401.6 826.5,407.6 830.5,413.0 834.5,411.4 838.5,407.6 842.5,401.4 846.5,394.1 850.5,391.6 854.5,390.4 858.5,392.9 862.5,396.5 866.5,399.1 870.5,398.1 874.5,398.3 878.5,399.3 882.5,402.7 886.5,405.0 890.5,410.3 894.5,414.9 898.5,418.5 902.5,420.4 906.5,424.0 910.5,428.6 914.5,436.9 918.5,444.7 922.5,451.2 926.5,457.7 930.5,460.5 934.5,464.3 938.5,463.7 942.5,465.7 946.5,466.5 950.5,469.7 954.5,467.6 958.5,470.8 962.5,470.4 966.5,469.6 970.5,463.6 974.5,456.0 978.5,449.3 982.5,446.7 986.5,444.3 990.5,444.6 994.5,450.4 998.5,455.5 1002.5,460.0 1006.5,465.9 1010.5,471.3 1014.5,474.1 1018.5,476.7 1022.5,477.4 1026.5,478.4 1030.5,479.8 1034.5,476.8 1038.5,474.5 1042.5,474.5 1046.5,476.2 1050.5,474.0 1054.5,477.4 1058.5,476.6 1062.5,476.2 1066.5,477.4 1070.5,483.4 1074.5,484.0 1078.5,485.4 1082.5,484.4 1086.5,480.9 1090.5,474.2 1094.5,470.1 1098.5,469.6 1102.5,467.1 1106.5,461.3 1110.5,459.0 1114.5,459.8 1118.5,455.4 1122.5,456.9 1126.5,459.9 1130.5,463.4 1134.5,466.7 1138.5,473.8 1142.5,477.5 1146.5,480.1 1150.5,482.0 1154.5,485.3 1158.5,485.3 1162.5,483.6 1166.5,483.2 1170.5,487.2 1174.5,488.1 1178.5,490.9 1182.5,496.6 1186.5,503.3 1190.5,507.6 1194.5,505.8 1198.5,501.6 1202.5,500.4 1206.5,498.0 1210.5,492.7 1214.5,495.3 1218.5,496.3 1222.5,494.5 1226.5,492.6 1230.5,492.2 1234.5,490.2 1238.5,495.5 1242.5,503.0 1246.5,511.6 1250.5,518.1 1254.5,525.6" fill="none" stroke="#ffa500" stroke-width="1"/>
<rect x="2" y="365" width="1576" height="2" fill="#ff0000"/>
<rect x="2" y="405" width="1576" height="2" fill="#ff0000"/>
<rect x="2" y="445" width="1576" height="2" fill="#ff0000"/>
<rect x="2" y="491" width="1576" height="2" fill="#00ff00"/>
<rect x="2" y="524" width="1576" height="2" fill="#0000ff"/>
</g>
<rect x="1" y="363" width="6" height="6" fill="#ff0000"/>
<rect x="3" y="365" width="2" height="2" fill="#fff"/>
<rect x="1572" y="363" width="6" height="6" fill="#ff0000"/>
<rect x="1574" y="365" width="2" height="2" fill="#fff"/>
<rect x="1" y="403" width="6" height="6" fill="#ff0000"/>
<rect x="3" y="405" width="2" height="2" fill="#fff"/>
<rect x="1572" y="403" width="6" height="6" fill="#ff0000"/>
<rect x="1574" y="405" width="2" height="2" fill="#fff"/>
<rect x="1" y="443" width="6" height="6" fill="#ff0000"/>
<rect x="3" y="445" width="2" height="2" fill="#fff"/>
<rect x="1572" y="443" width="6" height="6" fill="#ff0000"/>
<rect x="1574" y="445" width="2" height="2" fill="#fff"/>
<rect x="1" y="489" width="6" height="6" fill="#00ff00"/>
<rect x="3" y="491" width="2" height="2" fill="#fff"/>
<rect x="1572" y="489" width="6" height="6" fill="#00ff00"/>
<rect x="1574" y="491" width="2" height="2" fill="#fff"/>
<rect x="1" y="522" width="6" height="6" fill="#0000ff"/>
<rect x="3" y="524" width="2" height="2" fill="#fff"/>
<rect x="1572" y="522" width="6" height="6" fill="#0000ff"/>
<rect x="1574" y="524" width="2" height="2" fill="#fff"/>
<path d="M5 31 L12 31 L8.5 35 Z" fill="#000"/>
<text x="17.5" y="36" font-size="10.38" fill="#000" textLength="65.21" lengthAdjust="spacingAndGlyphs" stroke="#000" stroke-width="0.2">USDCAD,Daily</text>
<text x="89.5" y="36" font-size="9.94" fill="#000" textLength="140.71" lengthAdjust="spacingAndGlyphs" stroke="#000" stroke-width="0.2">1.24904 1.24906 1.24671 1.24778</text>
<rect x="1579" y="53" width="3" height="1" fill="#000"/>
<text x="1584.7" y="57" font-size="9.90" fill="#000" textLength="32.20" lengthAdjust="spacingAndGlyphs" stroke="#000" stroke-width="0.2">1.46520</text>
<rect x="1579" y="86" width="3" height="1" fill="#000"/>
<text x="1584.7" y="90" font-size="9.90" fill="#000" textLength="32.20" lengthAdjust="spacingAndGlyphs" stroke="#000" stroke-width="0.2">1.45035</text>
<rect x="1579" y="119" width="3" height="1" fill="#000"/>
<text x="1584.7" y="123" font-size="9.90" fill="#000" textLength="32.20" lengthAdjust="spacingAndGlyphs" stroke="#000" stroke-width="0.2">1.43505</text>
<rect x="1579" y="152" width="3" height="1" fill="#000"/>
<text x="1584.7" y="156" font-size="9.90" fill="#000" textLength="32.20" lengthAdjust="spacingAndGlyphs" stroke="#000" stroke-width="0.2">1.42020</text>
<rect x="1579" y="185" width="3" height="1" fill="#000"/>
<text x="1584.7" y="189" font-size="9.90" fill="#000" textLength="32.20" lengthAdjust="spacingAndGlyphs" stroke="#000" stroke-width="0.2">1.40535</text>
<rect x="1579" y="218" width="3" height="1" fill="#000"/>
<text x="1584.7" y="222" font-size="9.90" fill="#000" textLength="32.20" lengthAdjust="spacingAndGlyphs" stroke="#000" stroke-width="0.2">1.39005</text>
<rect x="1579" y="251" width="3" height="1" fill="#000"/>
<text x="1584.7" y="255" font-size="9.90" fill="#000" textLength="32.20" lengthAdjust="spacingAndGlyphs" stroke="#000" stroke-width="0.2">1.37520</text>
<rect x="1579" y="284" width="3" height="1" fill="#000"/>
<text x="1584.7" y="288" font-size="9.90" fill="#000" textLength="32.20" lengthAdjust="spacingAndGlyphs" stroke="#000" stroke-width="0.2">1.35990</text>
<rect x="1579" y="317" width="3" height="1" fill="#000"/>
<text x="1584.7" y="321" font-size="9.90" fill="#000" textLength="32.20" lengthAdjust="spacingAndGlyphs" stroke="#000" stroke-width="0.2">1.34505</text>
<rect x="1579" y="350" width="3" height="1" fill="#000"/>
<text x="1584.7" y="354" font-size="9.90" fill="#000" textLength="32.20" lengthAdjust="spacingAndGlyphs" stroke="#000" stroke-width="0.2">1.32975</text>
<rect x="1579" y="383" width="3" height="1" fill="#000"/>
<text x="1584.7" y="387" font-size="9.90" fill="#000" textLength="32.20" lengthAdjust="spacingAndGlyphs" stroke="#000" stroke-width="0.2">1.31490</text>
<rect x="1579" y="416" width="3" height="1" fill="#000"/>
<text x="1584.7" y="420" font-size="9.90" fill="#000" textLength="32.20" lengthAdjust="spacingAndGlyphs" stroke="#000" stroke-width="0.2">1.29960</text>
<rect x="1579" y="449" width="3" height="1" fill="#000"/>
<text x="1584.7" y="453" font-size="9.90" fill="#000" textLength="32.20" lengthAdjust="spacingAndGlyphs" stroke="#000" stroke-width="0.2">1.28475</text>
<rect x="1579" y="482" width="3" height="1" fill="#000"/>
<text x="1584.7" y="486" font-size="9.90" fill="#000" textLength="32.20" lengthAdjust="spacingAndGlyphs" stroke="#000" stroke-width="0.2">1.26945</text>
<rect x="1579" y="515" width="3" height="1" fill="#000"/>
<text x="1584.7" y="519" font-size="9.90" fill="#000" textLength="32.20" lengthAdjust="spacingAndGlyphs" stroke="#000" stroke-width="0.2">1.25460</text>
<rect x="1579" y="548" width="3" height="1" fill="#000"/>
<text x="1584.7" y="552" font-size="9.90" fill="#000" textLength="32.20" lengthAdjust="spacingAndGlyphs" stroke="#000" stroke-width="0.2">1.23975</text>
<rect x="1580" y="525" width="40" height="11" fill="#000"/>
<text x="1584.7" y="534" font-size="9.90" fill="#fff" textLength="32.20" lengthAdjust="spacingAndGlyphs">1.24778</text>
<rect x="1580" y="360" width="40" height="11" fill="#ff0000"/>
<text x="1584.7" y="369" font-size="9.90" fill="#fff" textLength="32.20" lengthAdjust="spacingAndGlyphs">1.32258</text>
<rect x="1580" y="400" width="40" height="11" fill="#ff0000"/>
<text x="1584.7" y="409" font-size="9.90" fill="#fff" textLength="32.20" lengthAdjust="spacingAndGlyphs">1.30415</text>
<rect x="1580" y="440" width="40" height="11" fill="#ff0000"/>
<text x="1584.7" y="449" font-size="9.90" fill="#fff" textLength="32.20" lengthAdjust="spacingAndGlyphs">1.28616</text>
<rect x="1580" y="486" width="40" height="11" fill="#00ff00"/>
<text x="1584.7" y="495" font-size="9.90" fill="#fff" textLength="32.20" lengthAdjust="spacingAndGlyphs">1.26503</text>
<rect x="1580" y="519" width="40" height="11" fill="#0000ff"/>
<text x="1584.7" y="528" font-size="9.90" fill="#fff" textLength="32.20" lengthAdjust="spacingAndGlyphs">1.25019</text>
<g clip-path="url(#cr)">
<line x1="2" y1="583.5" x2="1578" y2="583.5" stroke="#c0c0c0" stroke-width="1" stroke-dasharray="3,3"/>
<line x1="2" y1="620.5" x2="1578" y2="620.5" stroke="#c0c0c0" stroke-width="1" stroke-dasharray="3,3"/>
<polyline points="-1.5,569.8 2.5,567.0 6.5,574.0 10.5,572.8 14.5,568.9 18.5,565.2 22.5,570.0 26.5,578.1 30.5,576.1 34.5,574.6 38.5,578.9 42.5,586.0 46.5,598.3 50.5,597.3 54.5,601.7 58.5,595.1 62.5,597.9 66.5,594.5 70.5,598.4 74.5,597.5 78.5,597.1 82.5,599.7 86.5,603.6 90.5,601.0 94.5,604.4 98.5,604.0 102.5,604.2 106.5,604.2 110.5,606.6 114.5,597.7 118.5,596.5 122.5,601.4 126.5,601.8 130.5,599.6 134.5,594.5 138.5,598.6 142.5,602.4 146.5,599.4 150.5,598.8 154.5,602.4 158.5,604.6 162.5,607.1 166.5,608.1 170.5,598.8 174.5,600.3 178.5,599.7 182.5,602.2 186.5,597.1 190.5,605.1 194.5,607.6 198.5,606.3 202.5,601.7 206.5,602.6 210.5,599.0 214.5,599.2 218.5,598.5 222.5,598.1 226.5,605.8 230.5,609.8 234.5,607.8 238.5,605.6 242.5,601.5 246.5,603.0 250.5,604.5 254.5,611.5 258.5,613.3 262.5,614.2 266.5,610.1 270.5,611.6 274.5,618.8 278.5,621.4 282.5,622.1 286.5,620.2 290.5,623.1 294.5,621.8 298.5,623.7 302.5,619.3 306.5,620.9 310.5,608.7 314.5,607.4 318.5,605.7 322.5,605.9 326.5,608.7 330.5,607.6 334.5,606.3 338.5,605.3 342.5,605.3 346.5,609.7 350.5,611.4 354.5,604.0 358.5,599.7 362.5,597.8 366.5,601.0 370.5,598.4 374.5,604.0 378.5,606.3 382.5,605.0 386.5,607.4 390.5,607.1 394.5,608.4 398.5,604.3 402.5,608.0 406.5,604.0 410.5,603.2 414.5,603.6 418.5,605.2 422.5,601.8 426.5,609.0 430.5,606.7 434.5,603.9 438.5,603.4 442.5,607.5 446.5,613.9 450.5,616.2 454.5,618.5 458.5,611.1 462.5,612.2 466.5,614.6 470.5,616.3 474.5,614.1 478.5,606.8 482.5,610.9 486.5,611.8 490.5,607.9 494.5,611.2 498.5,618.1 502.5,614.3 506.5,604.8 510.5,605.9 514.5,608.4 518.5,611.7 522.5,614.0 526.5,615.7 530.5,612.6 534.5,612.0 538.5,615.3 542.5,616.8 546.5,617.3 550.5,615.7 554.5,613.5 558.5,614.3 562.5,610.7 566.5,613.0 570.5,616.5 574.5,618.0 578.5,619.1 582.5,619.9 586.5,623.3 590.5,619.5 594.5,619.5 598.5,609.5 602.5,613.0 606.5,616.2 610.5,611.0 614.5,600.3 618.5,603.7 622.5,604.1 626.5,601.1 630.5,600.2 634.5,603.3 638.5,599.8 642.5,603.7 646.5,599.5 650.5,602.0 654.5,600.9 658.5,591.7 662.5,590.6 666.5,586.9 670.5,587.4 674.5,584.8 678.5,587.1 682.5,589.7 686.5,586.8 690.5,597.6 694.5,600.8 698.5,597.7 702.5,600.1 706.5,603.2 710.5,601.7 714.5,600.8 718.5,607.3 722.5,614.5 726.5,613.0 730.5,614.5 734.5,611.0 738.5,610.0 742.5,600.5 746.5,604.8 750.5,606.2 754.5,608.0 758.5,611.0 762.5,609.2 766.5,609.2 770.5,607.2 774.5,608.3 778.5,599.8 782.5,605.6 786.5,592.5 790.5,590.2 794.5,593.5 798.5,594.5 802.5,598.1 806.5,610.2 810.5,607.7 814.5,613.4 818.5,613.2 822.5,613.7 826.5,616.6 830.5,612.4 834.5,607.8 838.5,604.0 842.5,600.6 846.5,602.9 850.5,607.1 854.5,605.2 858.5,607.5 862.5,605.6 866.5,606.3 870.5,604.6 874.5,604.6 878.5,609.2 882.5,611.3 886.5,609.9 890.5,613.4 894.5,611.6 898.5,614.1 902.5,613.0 906.5,614.9 910.5,619.6 914.5,623.3 918.5,624.4 922.5,619.3 926.5,620.8 930.5,618.7 934.5,623.8 938.5,614.7 942.5,616.1 946.5,615.5 950.5,617.9 954.5,614.8 958.5,617.5 962.5,610.7 966.5,609.3 970.5,601.7 974.5,596.8 978.5,602.1 982.5,604.7 986.5,604.0 990.5,602.3 994.5,607.5 998.5,610.8 1002.5,612.2 1006.5,613.8 1010.5,610.4 1014.5,610.8 1018.5,613.9 1022.5,611.1 1026.5,613.5 1030.5,610.6 1034.5,601.0 1038.5,605.9 1042.5,608.1 1046.5,613.0 1050.5,603.1 1054.5,605.4 1058.5,602.6 1062.5,605.2 1066.5,612.0 1070.5,612.0 1074.5,604.2 1078.5,603.0 1082.5,601.6 1086.5,605.0 1090.5,599.6 1094.5,597.2 1098.5,602.5 1102.5,598.0 1106.5,595.9 1110.5,596.8 1114.5,599.9 1118.5,596.2 1122.5,601.9 1126.5,602.2 1130.5,603.9 1134.5,606.3 1138.5,608.8 1142.5,608.2 1146.5,606.1 1150.5,606.7 1154.5,611.7 1158.5,607.3 1162.5,602.7 1166.5,603.5 1170.5,612.2 1174.5,610.9 1178.5,611.2 1182.5,612.9 1186.5,614.9 1190.5,618.6 1194.5,603.3 1198.5,599.4 1202.5,606.1 1206.5,606.1 1210.5,605.1 1214.5,607.3 1218.5,600.1 1222.5,602.2 1226.5,602.2 1230.5,604.1 1234.5,603.4 1238.5,609.9 1242.5,614.7 1246.5,616.3 1250.5,613.3 1254.5,614.4" fill="none" stroke="#1e90ff" stroke-width="1"/>
</g>
<text x="6" y="566" font-size="9.94" fill="#000" textLength="67.51" lengthAdjust="spacingAndGlyphs" stroke="#000" stroke-width="0.2">RSI(14) 35.3431</text>
<text x="1582.3" y="564.1" font-size="9.90" fill="#000" textLength="14.86" lengthAdjust="spacingAndGlyphs" stroke="#000" stroke-width="0.2">100</text>
<text x="1582.3" y="587.1" font-size="9.90" fill="#000" textLength="9.91" lengthAdjust="spacingAndGlyphs" stroke="#000" stroke-width="0.2">70</text>
<text x="1582.3" y="624.1" font-size="9.90" fill="#000" textLength="9.91" lengthAdjust="spacingAndGlyphs" stroke="#000" stroke-width="0.2">30</text>
<text x="1582.3" y="646.3000000000001" font-size="9.90" fill="#000" textLength="4.95" lengthAdjust="spacingAndGlyphs" stroke="#000" stroke-width="0.2">0</text>
<rect x="1579" y="583" width="1" height="1" fill="#000"/>
<rect x="1579" y="620" width="1" height="1" fill="#000"/>
<rect x="1579" y="554" width="1" height="1" fill="#000"/>
<rect x="1579" y="648" width="1" height="1" fill="#000"/>
<g clip-path="url(#cd)">
<path d="M-2 692h1v22h-1z M2 687h1v27h-1z M6 684h1v30h-1z M10 682h1v32h-1z M14 677h1v37h-1z M18 669h1v45h-1z M22 665h1v49h-1z M26 663h1v51h-1z M30 661h1v53h-1z M34 659h1v55h-1z M38 659h1v55h-1z M42 661h1v53h-1z M46 668h1v46h-1z M50 673h1v41h-1z M54 679h1v35h-1z M58 681h1v33h-1z M62 685h1v29h-1z M66 686h1v28h-1z M70 688h1v26h-1z M74 690h1v24h-1z M78 692h1v22h-1z M82 694h1v20h-1z M86 698h1v16h-1z M90 700h1v14h-1z M94 703h1v11h-1z M98 706h1v8h-1z M102 708h1v6h-1z M106 710h1v4h-1z M110 712h1v2h-1z M114 711h1v3h-1z M118 709h1v5h-1z M122 710h1v4h-1z M126 710h1v4h-1z M130 710h1v4h-1z M134 708h1v6h-1z M138 708h1v6h-1z M142 709h1v5h-1z M146 709h1v5h-1z M150 708h1v6h-1z M154 709h1v5h-1z M158 711h1v3h-1z M162 713h1v1h-1z M166 713h1v3h-1z M170 713h1v2h-1z M174 713h1v1h-1z M178 712h1v2h-1z M182 713h1v1h-1z M186 711h1v3h-1z M190 713h1v1h-1z M194 713h1v3h-1z M198 713h1v4h-1z M202 713h1v4h-1z M206 713h1v3h-1z M210 713h1v2h-1z M214 713h1v1h-1z M218 712h1v2h-1z M222 712h1v2h-1z M226 713h1v1h-1z M230 713h1v3h-1z M234 713h1v5h-1z M238 713h1v5h-1z M242 713h1v4h-1z M246 713h1v4h-1z M250 713h1v4h-1z M254 713h1v7h-1z M258 713h1v9h-1z M262 713h1v11h-1z M266 713h1v12h-1z M270 713h1v12h-1z M274 713h1v16h-1z M278 713h1v19h-1z M282 713h1v22h-1z M286 713h1v24h-1z M290 713h1v26h-1z M294 713h1v27h-1z M298 713h1v29h-1z M302 713h1v29h-1z M306 713h1v30h-1z M310 713h1v27h-1z M314 713h1v25h-1z M318 713h1v22h-1z M322 713h1v20h-1z M326 713h1v19h-1z M330 713h1v17h-1z M334 713h1v16h-1z M338 713h1v14h-1z M342 713h1v13h-1z M346 713h1v13h-1z M350 713h1v13h-1z M354 713h1v11h-1z M358 713h1v9h-1z M362 713h1v7h-1z M366 713h1v6h-1z M370 713h1v4h-1z M374 713h1v4h-1z M378 713h1v5h-1z M382 713h1v5h-1z M386 713h1v5h-1z M390 713h1v6h-1z M394 713h1v6h-1z M398 713h1v6h-1z M402 713h1v6h-1z M406 713h1v6h-1z M410 713h1v5h-1z M414 713h1v5h-1z M418 713h1v5h-1z M422 713h1v4h-1z M426 713h1v5h-1z M430 713h1v5h-1z M434 713h1v5h-1z M438 713h1v5h-1z M442 713h1v5h-1z M446 713h1v6h-1z M450 713h1v8h-1z M454 713h1v10h-1z M458 713h1v10h-1z M462 713h1v10h-1z M466 713h1v11h-1z M470 713h1v12h-1z M474 713h1v12h-1z M478 713h1v11h-1z M482 713h1v11h-1z M486 713h1v11h-1z M490 713h1v11h-1z M494 713h1v11h-1z M498 713h1v13h-1z M502 713h1v13h-1z M506 713h1v12h-1z M510 713h1v11h-1z M514 713h1v11h-1z M518 713h1v11h-1z M522 713h1v12h-1z M526 713h1v13h-1z M530 713h1v13h-1z M534 713h1v13h-1z M538 713h1v14h-1z M542 713h1v14h-1z M546 713h1v15h-1z M550 713h1v15h-1z M554 713h1v15h-1z M558 713h1v14h-1z M562 713h1v14h-1z M566 713h1v13h-1z M570 713h1v13h-1z M574 713h1v14h-1z M578 713h1v14h-1z M582 713h1v15h-1z M586 713h1v15h-1z M590 713h1v16h-1z M594 713h1v16h-1z M598 713h1v14h-1z M602 713h1v14h-1z M606 713h1v14h-1z M610 713h1v13h-1z M614 713h1v11h-1z M618 713h1v10h-1z M622 713h1v9h-1z M626 713h1v8h-1z M630 713h1v6h-1z M634 713h1v6h-1z M638 713h1v5h-1z M642 713h1v4h-1z M646 713h1v4h-1z M650 713h1v3h-1z M654 713h1v3h-1z M658 713h1v1h-1z M662 711h1v3h-1z M666 709h1v5h-1z M670 707h1v7h-1z M674 706h1v8h-1z M678 705h1v9h-1z M682 704h1v10h-1z M686 703h1v11h-1z M690 704h1v10h-1z M694 705h1v9h-1z M698 706h1v8h-1z M702 707h1v7h-1z M706 708h1v6h-1z M710 709h1v5h-1z M714 709h1v5h-1z M718 711h1v3h-1z M722 713h1v2h-1z M726 713h1v3h-1z M730 713h1v5h-1z M734 713h1v6h-1z M738 713h1v7h-1z M742 713h1v5h-1z M746 713h1v5h-1z M750 713h1v5h-1z M754 713h1v6h-1z M758 713h1v7h-1z M762 713h1v7h-1z M766 713h1v7h-1z M770 713h1v7h-1z M774 713h1v7h-1z M778 713h1v6h-1z M782 713h1v6h-1z M786 713h1v3h-1z M790 713h1v1h-1z M794 711h1v3h-1z M798 710h1v4h-1z M802 710h1v4h-1z M806 712h1v2h-1z M810 713h1v2h-1z M814 713h1v4h-1z M818 713h1v6h-1z M822 713h1v8h-1z M826 713h1v10h-1z M830 713h1v11h-1z M834 713h1v11h-1z M838 713h1v10h-1z M842 713h1v8h-1z M846 713h1v7h-1z M850 713h1v7h-1z M854 713h1v7h-1z M858 713h1v7h-1z M862 713h1v7h-1z M866 713h1v7h-1z M870 713h1v7h-1z M874 713h1v6h-1z M878 713h1v7h-1z M882 713h1v7h-1z M886 713h1v8h-1z M890 713h1v8h-1z M894 713h1v9h-1z M898 713h1v10h-1z M902 713h1v10h-1z M906 713h1v10h-1z M910 713h1v12h-1z M914 713h1v14h-1z M918 713h1v15h-1z M922 713h1v16h-1z M926 713h1v16h-1z M930 713h1v17h-1z M934 713h1v18h-1z M938 713h1v18h-1z M942 713h1v17h-1z M946 713h1v17h-1z M950 713h1v17h-1z M954 713h1v17h-1z M958 713h1v17h-1z M962 713h1v16h-1z M966 713h1v15h-1z M970 713h1v13h-1z M974 713h1v10h-1z M978 713h1v9h-1z M982 713h1v8h-1z M986 713h1v7h-1z M990 713h1v6h-1z M994 713h1v6h-1z M998 713h1v7h-1z M1002 713h1v8h-1z M1006 713h1v9h-1z M1010 713h1v9h-1z M1014 713h1v9h-1z M1018 713h1v10h-1z M1022 713h1v10h-1z M1026 713h1v10h-1z M1030 713h1v10h-1z M1034 713h1v9h-1z M1038 713h1v8h-1z M1042 713h1v8h-1z M1046 713h1v9h-1z M1050 713h1v8h-1z M1054 713h1v8h-1z M1058 713h1v7h-1z M1062 713h1v6h-1z M1066 713h1v8h-1z M1070 713h1v9h-1z M1074 713h1v8h-1z M1078 713h1v7h-1z M1082 713h1v6h-1z M1086 713h1v6h-1z M1090 713h1v5h-1z M1094 713h1v3h-1z M1098 713h1v3h-1z M1102 713h1v2h-1z M1106 713h1v1h-1z M1110 712h1v2h-1z M1114 712h1v2h-1z M1118 711h1v3h-1z M1122 711h1v3h-1z M1126 712h1v2h-1z M1130 712h1v2h-1z M1134 713h1v1h-1z M1138 713h1v2h-1z M1142 713h1v3h-1z M1146 713h1v4h-1z M1150 713h1v4h-1z M1154 713h1v5h-1z M1158 713h1v5h-1z M1162 713h1v5h-1z M1166 713h1v5h-1z M1170 713h1v6h-1z M1174 713h1v7h-1z M1178 713h1v7h-1z M1182 713h1v8h-1z M1186 713h1v9h-1z M1190 713h1v10h-1z M1194 713h1v9h-1z M1198 713h1v7h-1z M1202 713h1v7h-1z M1206 713h1v7h-1z M1210 713h1v7h-1z M1214 713h1v7h-1z M1218 713h1v6h-1z M1222 713h1v5h-1z M1226 713h1v5h-1z M1230 713h1v4h-1z M1234 713h1v4h-1z M1238 713h1v5h-1z M1242 713h1v7h-1z M1246 713h1v9h-1z M1250 713h1v9h-1z M1254 713h1v10h-1z" fill="#c0c0c0"/>
<polyline points="-1.5,700.7 2.5,698.8 6.5,696.7 10.5,694.3 14.5,691.3 18.5,687.4 22.5,683.3 26.5,679.4 30.5,675.6 34.5,672.0 38.5,668.9 42.5,666.3 46.5,664.7 50.5,664.1 54.5,665.2 58.5,667.1 62.5,669.4 66.5,672.1 70.5,675.4 74.5,678.9 78.5,682.4 82.5,685.4 86.5,688.2 90.5,690.5 94.5,693.0 98.5,695.3 102.5,697.8 106.5,700.2 110.5,702.6 114.5,704.6 118.5,706.3 122.5,707.5 126.5,708.6 130.5,709.4 134.5,709.6 138.5,709.6 142.5,709.5 146.5,709.2 150.5,708.9 154.5,709.0 158.5,709.1 162.5,709.4 166.5,709.9 170.5,710.6 174.5,711.2 178.5,711.6 182.5,712.0 186.5,712.3 190.5,712.7 194.5,713.2 198.5,713.5 202.5,713.6 206.5,713.8 210.5,713.9 214.5,714.0 218.5,713.9 222.5,714.0 226.5,714.0 230.5,714.0 234.5,714.1 238.5,714.3 242.5,714.4 246.5,714.6 250.5,715.0 254.5,715.7 258.5,716.8 262.5,717.9 266.5,718.8 270.5,719.7 274.5,720.8 278.5,722.5 282.5,724.4 286.5,726.6 290.5,728.7 294.5,730.8 298.5,732.8 302.5,734.8 306.5,736.7 310.5,738.0 314.5,738.6 318.5,738.6 322.5,738.2 326.5,737.3 330.5,736.2 334.5,734.7 338.5,733.0 342.5,731.1 346.5,729.5 350.5,728.1 354.5,726.9 358.5,725.7 362.5,724.5 366.5,723.2 370.5,722.0 374.5,720.9 378.5,720.0 382.5,719.2 386.5,718.4 390.5,717.7 394.5,717.4 398.5,717.2 402.5,717.3 406.5,717.4 410.5,717.5 414.5,717.5 418.5,717.5 422.5,717.4 426.5,717.4 430.5,717.3 434.5,717.2 438.5,717.0 442.5,716.9 446.5,717.0 450.5,717.4 454.5,717.9 458.5,718.6 462.5,719.2 466.5,719.8 470.5,720.6 474.5,721.5 478.5,722.2 482.5,722.8 486.5,723.1 490.5,723.3 494.5,723.3 498.5,723.6 502.5,723.8 506.5,723.8 510.5,723.6 514.5,723.5 518.5,723.5 522.5,723.6 526.5,723.8 530.5,724.1 534.5,724.1 538.5,724.2 542.5,724.5 546.5,724.9 550.5,725.4 554.5,725.8 558.5,726.0 562.5,726.1 566.5,726.1 570.5,726.1 574.5,726.1 578.5,726.1 582.5,726.1 586.5,726.1 590.5,726.2 594.5,726.4 598.5,726.5 602.5,726.6 606.5,726.6 610.5,726.6 614.5,726.2 618.5,725.7 622.5,725.0 626.5,724.1 630.5,723.1 634.5,722.1 638.5,721.1 642.5,720.0 646.5,718.9 650.5,718.0 654.5,717.2 658.5,716.3 662.5,715.4 666.5,714.4 670.5,713.2 674.5,712.0 678.5,710.7 682.5,709.4 686.5,708.1 690.5,706.9 694.5,706.1 698.5,705.5 702.5,705.3 706.5,705.4 710.5,705.7 714.5,706.3 718.5,707.0 722.5,708.1 726.5,709.4 730.5,710.7 734.5,712.0 738.5,713.3 742.5,714.4 746.5,715.3 750.5,716.2 754.5,717.0 758.5,717.5 762.5,717.9 766.5,718.1 770.5,718.3 774.5,718.3 778.5,718.3 782.5,718.4 786.5,718.1 790.5,717.5 794.5,716.7 798.5,715.7 802.5,714.7 806.5,713.9 810.5,713.4 814.5,713.2 818.5,713.3 822.5,713.8 826.5,714.8 830.5,716.1 834.5,717.5 838.5,718.8 842.5,719.7 846.5,720.3 850.5,720.6 854.5,720.7 858.5,720.6 862.5,720.3 866.5,719.8 870.5,719.4 874.5,719.0 878.5,718.9 882.5,718.9 886.5,718.9 890.5,719.1 894.5,719.3 898.5,719.5 902.5,719.9 906.5,720.3 910.5,720.9 914.5,721.7 918.5,722.5 922.5,723.5 926.5,724.3 930.5,725.2 934.5,726.1 938.5,727.0 942.5,727.8 946.5,728.4 950.5,728.8 954.5,729.0 958.5,729.1 962.5,729.0 966.5,728.8 970.5,728.2 974.5,727.4 978.5,726.4 982.5,725.4 986.5,724.2 990.5,723.1 994.5,721.9 998.5,721.0 1002.5,720.2 1006.5,719.8 1010.5,719.7 1014.5,719.8 1018.5,720.0 1022.5,720.3 1026.5,720.7 1030.5,721.1 1034.5,721.3 1038.5,721.3 1042.5,721.2 1046.5,721.2 1050.5,721.0 1054.5,720.8 1058.5,720.4 1062.5,720.0 1066.5,719.8 1070.5,719.8 1074.5,719.8 1078.5,719.7 1082.5,719.3 1086.5,719.1 1090.5,718.8 1094.5,718.4 1098.5,718.1 1102.5,717.4 1106.5,716.6 1110.5,715.6 1114.5,714.8 1118.5,714.0 1122.5,713.3 1126.5,712.7 1130.5,712.4 1134.5,712.1 1138.5,712.2 1142.5,712.5 1146.5,712.9 1150.5,713.4 1154.5,714.1 1158.5,714.8 1162.5,715.3 1166.5,715.8 1170.5,716.3 1174.5,716.8 1178.5,717.3 1182.5,717.7 1186.5,718.3 1190.5,718.9 1194.5,719.3 1198.5,719.6 1202.5,719.9 1206.5,720.0 1210.5,720.0 1214.5,720.0 1218.5,719.8 1222.5,719.3 1226.5,718.7 1230.5,718.2 1234.5,717.8 1238.5,717.6 1242.5,717.5 1246.5,717.7 1250.5,718.0 1254.5,718.5" fill="none" stroke="#ff0000" stroke-width="1" stroke-dasharray="3,3"/>
</g>
<text x="6.3" y="663.6" font-size="9.94" fill="#000" textLength="153.00" lengthAdjust="spacingAndGlyphs" stroke="#000" stroke-width="0.2">MACD(12,26,9) -0.004927 -0.002822</text>
<text x="1582.3" y="662.4" font-size="9.90" fill="#000" textLength="37.16" lengthAdjust="spacingAndGlyphs" stroke="#000" stroke-width="0.2">0.032972</text>
<text x="1582.3" y="717.3000000000001" font-size="9.90" fill="#000" textLength="17.34" lengthAdjust="spacingAndGlyphs" stroke="#000" stroke-width="0.2">0.00</text>
<text x="1582.3" y="744.0" font-size="9.90" fill="#000" textLength="40.12" lengthAdjust="spacingAndGlyphs" stroke="#000" stroke-width="0.2">-0.018154</text>
<rect x="1579" y="713" width="2" height="1" fill="#000"/>
<rect x="1579" y="652" width="2" height="1" fill="#000"/>
<rect x="1579" y="746" width="2" height="1" fill="#000"/>
<rect x="2" y="748" width="1" height="3" fill="#000"/>
<text x="1.6" y="760" font-size="9.94" fill="#000" textLength="51.25" lengthAdjust="spacingAndGlyphs" stroke="#000" stroke-width="0.2">13 Mar 2020</text>
<rect x="66" y="748" width="1" height="3" fill="#000"/>
<text x="65.6" y="760" font-size="9.94" fill="#000" textLength="44.95" lengthAdjust="spacingAndGlyphs" stroke="#000" stroke-width="0.2">1 Apr 2020</text>
<rect x="130" y="748" width="1" height="3" fill="#000"/>
<text x="129.6" y="760" font-size="9.94" fill="#000" textLength="50.12" lengthAdjust="spacingAndGlyphs" stroke="#000" stroke-width="0.2">20 Apr 2020</text>
<rect x="194" y="748" width="1" height="3" fill="#000"/>
<text x="193.6" y="760" font-size="9.94" fill="#000" textLength="48.56" lengthAdjust="spacingAndGlyphs" stroke="#000" stroke-width="0.2">8 May 2020</text>
<rect x="258" y="748" width="1" height="3" fill="#000"/>
<text x="257.6" y="760" font-size="9.94" fill="#000" textLength="53.73" lengthAdjust="spacingAndGlyphs" stroke="#000" stroke-width="0.2">27 May 2020</text>
<rect x="322" y="748" width="1" height="3" fill="#000"/>
<text x="321.6" y="760" font-size="9.94" fill="#000" textLength="51.16" lengthAdjust="spacingAndGlyphs" stroke="#000" stroke-width="0.2">15 Jun 2020</text>
<rect x="386" y="748" width="1" height="3" fill="#000"/>
<text x="385.6" y="760" font-size="9.94" fill="#000" textLength="42.88" lengthAdjust="spacingAndGlyphs" stroke="#000" stroke-width="0.2">3 Jul 2020</text>
<rect x="450" y="748" width="1" height="3" fill="#000"/>
<text x="449.6" y="760" font-size="9.94" fill="#000" textLength="48.05" lengthAdjust="spacingAndGlyphs" stroke="#000" stroke-width="0.2">22 Jul 2020</text>
<rect x="514" y="748" width="1" height="3" fill="#000"/>
<text x="513.6" y="760" font-size="9.94" fill="#000" textLength="52.19" lengthAdjust="spacingAndGlyphs" stroke="#000" stroke-width="0.2">10 Aug 2020</text>
<rect x="578" y="748" width="1" height="3" fill="#000"/>
<text x="577.6" y="760" font-size="9.94" fill="#000" textLength="52.19" lengthAdjust="spacingAndGlyphs" stroke="#000" stroke-width="0.2">28 Aug 2020</text>
<rect x="642" y="748" width="1" height="3" fill="#000"/>
<text x="641.6" y="760" font-size="9.94" fill="#000" textLength="52.71" lengthAdjust="spacingAndGlyphs" stroke="#000" stroke-width="0.2">16 Sep 2020</text>
<rect x="706" y="748" width="1" height="3" fill="#000"/>
<text x="705.6" y="760" font-size="9.94" fill="#000" textLength="45.46" lengthAdjust="spacingAndGlyphs" stroke="#000" stroke-width="0.2">5 Oct 2020</text>
<rect x="770" y="748" width="1" height="3" fill="#000"/>
<text x="769.6" y="760" font-size="9.94" fill="#000" textLength="50.63" lengthAdjust="spacingAndGlyphs" stroke="#000" stroke-width="0.2">23 Oct 2020</text>
<rect x="834" y="748" width="1" height="3" fill="#000"/>
<text x="833.6" y="760" font-size="9.94" fill="#000" textLength="52.01" lengthAdjust="spacingAndGlyphs" stroke="#000" stroke-width="0.2">11 Nov 2020</text>
<rect x="898" y="748" width="1" height="3" fill="#000"/>
<text x="897.6" y="760" font-size="9.94" fill="#000" textLength="52.70" lengthAdjust="spacingAndGlyphs" stroke="#000" stroke-width="0.2">30 Nov 2020</text>
<rect x="962" y="748" width="1" height="3" fill="#000"/>
<text x="961.6" y="760" font-size="9.94" fill="#000" textLength="52.70" lengthAdjust="spacingAndGlyphs" stroke="#000" stroke-width="0.2">18 Dec 2020</text>
<rect x="1026" y="748" width="1" height="3" fill="#000"/>
<text x="1025.6" y="760" font-size="9.94" fill="#000" textLength="45.99" lengthAdjust="spacingAndGlyphs" stroke="#000" stroke-width="0.2">8 Jan 2021</text>
<rect x="1090" y="748" width="1" height="3" fill="#000"/>
<text x="1089.6" y="760" font-size="9.94" fill="#000" textLength="51.16" lengthAdjust="spacingAndGlyphs" stroke="#000" stroke-width="0.2">27 Jan 2021</text>
<rect x="1154" y="748" width="1" height="3" fill="#000"/>
<text x="1153.6" y="760" font-size="9.94" fill="#000" textLength="52.19" lengthAdjust="spacingAndGlyphs" stroke="#000" stroke-width="0.2">15 Feb 2021</text>
<rect x="1218" y="748" width="1" height="3" fill="#000"/>
<text x="1217.6" y="760" font-size="9.94" fill="#000" textLength="47.01" lengthAdjust="spacingAndGlyphs" stroke="#000" stroke-width="0.2">5 Mar 2021</text>
<rect x="0" y="768" width="1620" height="1" fill="#e6e6e6"/>
<rect x="0" y="770" width="1620" height="1" fill="#000"/>
<rect x="0" y="771" width="1620" height="23" fill="#f0f0f0"/>
<rect x="0" y="789" width="1620" height="1" fill="#fafafa"/>
<rect x="312" y="770" width="102" height="18" fill="#fff"/>
<rect x="311" y="770" width="1" height="19" fill="#000"/>
<rect x="414" y="770" width="1" height="19" fill="#000"/>
<rect x="311" y="788" width="104" height="1" fill="#000"/>
<rect x="310" y="771" width="1" height="18" fill="#fff"/>
<rect x="415" y="771" width="1" height="18" fill="#fff"/>
<text x="15.1" y="785" font-size="12.00" fill="#6d6d6d" textLength="79.70" lengthAdjust="spacingAndGlyphs">EURUSD,Daily</text>
<text x="117.2" y="785" font-size="12.00" fill="#6d6d6d" textLength="78.40" lengthAdjust="spacingAndGlyphs">USDCHF,Daily</text>
<text x="218.0" y="785" font-size="12.00" fill="#6d6d6d" textLength="81.90" lengthAdjust="spacingAndGlyphs">AUDUSD,Daily</text>
<text x="322.2" y="785" font-size="12.00" fill="#000" textLength="80.80" lengthAdjust="spacingAndGlyphs">USDCAD,Daily</text>
<text x="425.0" y="785" font-size="12.00" fill="#6d6d6d" textLength="82.70" lengthAdjust="spacingAndGlyphs">USDCNH,Daily</text>
<text x="531.1" y="785" font-size="12.00" fill="#6d6d6d" textLength="79.90" lengthAdjust="spacingAndGlyphs">EURUSD,Daily</text>
<text x="634.9000000000001" y="785" font-size="12.00" fill="#6d6d6d" textLength="68.10" lengthAdjust="spacingAndGlyphs">GBPUSD,H4</text>
<text x="726.0" y="785" font-size="12.00" fill="#6d6d6d" textLength="68.80" lengthAdjust="spacingAndGlyphs">XAUUSD,H4</text>
<text x="817.8000000000001" y="785" font-size="12.00" fill="#6d6d6d" textLength="49.70" lengthAdjust="spacingAndGlyphs">HK50,H1</text>
<text x="889.9000000000001" y="785" font-size="12.00" fill="#6d6d6d" textLength="56.60" lengthAdjust="spacingAndGlyphs">UK100,H1</text>
<text x="969.9000000000001" y="785" font-size="12.00" fill="#6d6d6d" textLength="56.60" lengthAdjust="spacingAndGlyphs">UK100,H1</text>
<text x="1049.7" y="785" font-size="12.00" fill="#6d6d6d" textLength="56.80" lengthAdjust="spacingAndGlyphs">GER30,H1</text>
<text x="1128.9" y="785" font-size="12.00" fill="#6d6d6d" textLength="54.70" lengthAdjust="spacingAndGlyphs">FRA40,H1</text>
<text x="1205.0" y="785" font-size="12.00" fill="#6d6d6d" textLength="62.90" lengthAdjust="spacingAndGlyphs">USOil,Daily</text>
<text x="1289.3" y="785" font-size="12.00" fill="#6d6d6d" textLength="61.90" lengthAdjust="spacingAndGlyphs">USDJPY,H1</text>
<text x="1373.1000000000001" y="785" font-size="12.00" fill="#6d6d6d" textLength="58.50" lengthAdjust="spacingAndGlyphs">DJ30,Daily</text>
<text x="1452.9" y="785" font-size="12.00" fill="#6d6d6d" textLength="78.60" lengthAdjust="spacingAndGlyphs">CHINA300,H1</text>
<text x="1553.1000000000001" y="785" font-size="12.00" fill="#6d6d6d" textLength="34.00" lengthAdjust="spacingAndGlyphs">USOil,</text>
<rect x="107" y="773" width="1" height="14" fill="#555555"/>
<rect x="207" y="773" width="1" height="14" fill="#555555"/>
<rect x="519" y="773" width="1" height="14" fill="#555555"/>
<rect x="623" y="773" width="1" height="14" fill="#555555"/>
<rect x="715" y="773" width="1" height="14" fill="#555555"/>
<rect x="807" y="773" width="1" height="14" fill="#555555"/>
<rect x="879" y="773" width="1" height="14" fill="#555555"/>
<rect x="958" y="773" width="1" height="14" fill="#555555"/>
<rect x="1039" y="773" width="1" height="14" fill="#555555"/>
<rect x="1119" y="773" width="1" height="14" fill="#555555"/>
<rect x="1195" y="773" width="1" height="14" fill="#555555"/>
<rect x="1279" y="773" width="1" height="14" fill="#555555"/>
<rect x="1363" y="773" width="1" height="14" fill="#555555"/>
<rect x="1443" y="773" width="1" height="14" fill="#555555"/>
<rect x="1543" y="773" width="1" height="14" fill="#555555"/>
<path d="M1597.5 775.5 L1597.5 782.5 L1593.8 779 Z" fill="#999" shape-rendering="auto"/>
<path d="M1612.8 775.5 L1612.8 782.5 L1616.5 779 Z" fill="#000" shape-rendering="auto"/></svg></body></html>
